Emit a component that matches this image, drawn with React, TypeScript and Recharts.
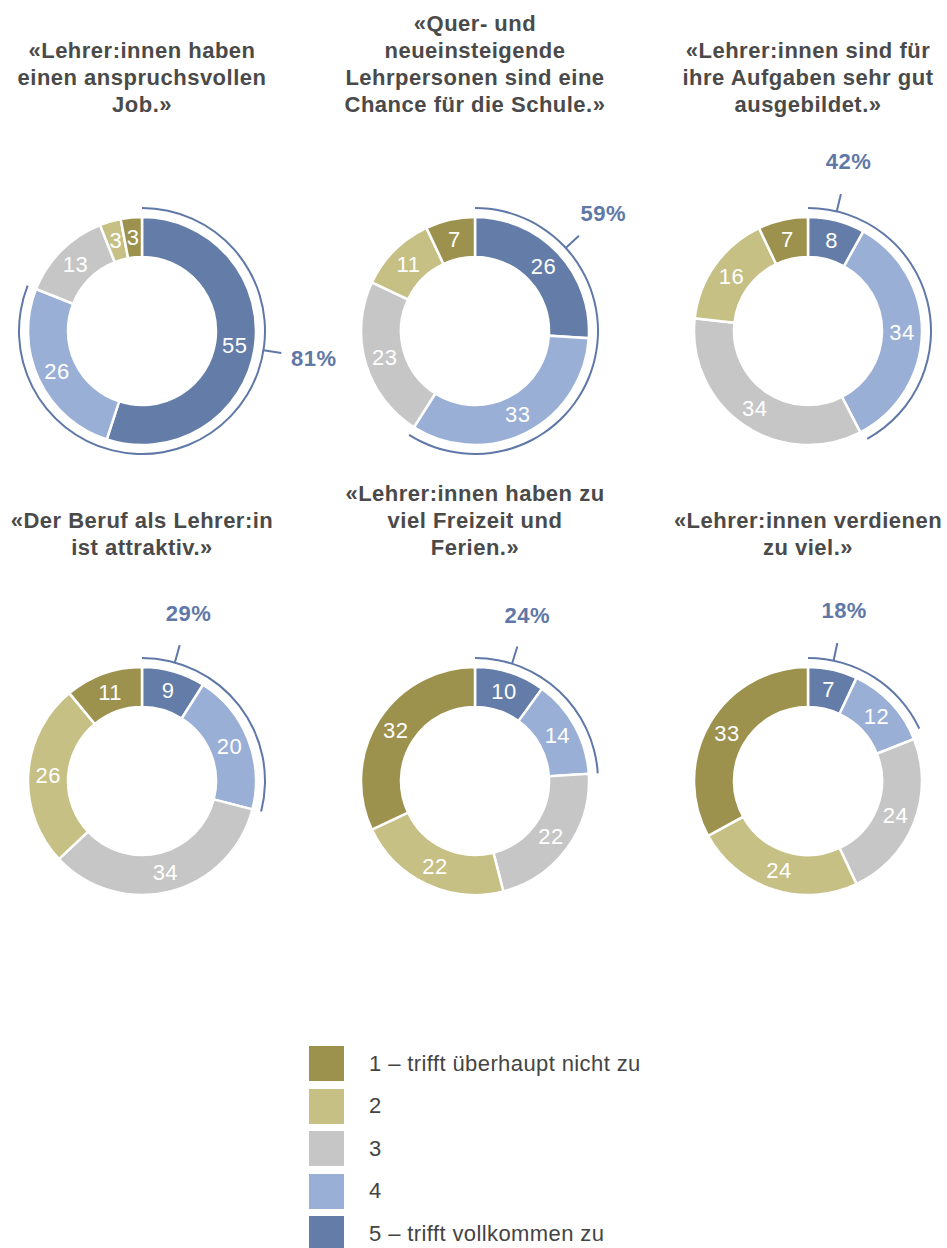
import { Cell, Pie, PieChart } from 'recharts';

// Antwortstufen, Reihenfolge im Ring: 5 → 1 im Uhrzeigersinn ab 12 Uhr
const levels = ['5', '4', '3', '2', '1'];
const levelColors = ['#637CA8', '#9AAFD6', '#C6C6C6', '#C6C085', '#9C924E'];

const legendLabels = ['1 – trifft überhaupt nicht zu', '2', '3', '4', '5 – trifft vollkommen zu'];
const legendColors = ['#9C924E', '#C6C085', '#C6C6C6', '#9AAFD6', '#637CA8'];

const titles = [
  ['«Lehrer:innen haben', 'einen anspruchsvollen', 'Job.»'],
  ['«Quer- und', 'neueinsteigende', 'Lehrpersonen sind eine', 'Chance für die Schule.»'],
  ['«Lehrer:innen sind für', 'ihre Aufgaben sehr gut', 'ausgebildet.»'],
  ['«Der Beruf als Lehrer:in', 'ist attraktiv.»'],
  ['«Lehrer:innen haben zu', 'viel Freizeit und', 'Ferien.»'],
  ['«Lehrer:innen verdienen', 'zu viel.»'],
];

// values in order 5, 4, 3, 2, 1
const job = [55, 26, 13, 3, 3];
const querEinsteigende = [26, 33, 23, 11, 7];
const ausgebildet = [8, 34, 34, 16, 7];
const attraktiv = [9, 20, 34, 26, 11];
const freizeit = [10, 14, 22, 22, 32];
const verdienen = [7, 12, 24, 24, 33];

const series = [job, querEinsteigende, ausgebildet, attraktiv, freizeit, verdienen];
const agreeShares = [81, 59, 42, 29, 24, 18];

// where the callout tick sits, degrees clockwise from 12 o'clock
const calloutAngles = [99, 47.5, 13.5, 15.5, 17.5, 12];

const WIDTH = 947;
const HEIGHT = 1248;
const colX = [142, 475, 808];
const rowY = [331, 781];
const titleBottom = [118, 561];

const RADIAN = Math.PI / 180;
const ARC_BLUE = '#5F78A8';
const FONT = '"Liberation Sans", Arial, Helvetica, sans-serif';

const renderValueLabel = (cx: number, cy: number) => (props: any) => {
  const r = (props.innerRadius + props.outerRadius) / 2;
  const x = cx + r * Math.cos(-props.midAngle * RADIAN);
  const y = cy + r * Math.sin(-props.midAngle * RADIAN);
  return (
    <text
      key={`v-${props.index}`}
      x={x}
      y={y}
      fill="#fff"
      textAnchor="middle"
      dominantBaseline="central"
      fontFamily={FONT}
      fontSize={22}
      letterSpacing={0.5}
    >
      {props.value}
    </text>
  );
};

const renderCallout = (cx: number, cy: number, angle: number, share: number) => (props: any) => {
  if (props.index !== 0) return <g key={`c-${props.index}`} />;
  const s = Math.sin(angle * RADIAN);
  const c = Math.cos(angle * RADIAN);
  return (
    <g key="callout">
      <line x1={cx + 123 * s} y1={cy - 123 * c} x2={cx + 141 * s} y2={cy - 141 * c} stroke={ARC_BLUE} strokeWidth={2} />
      <text
        x={cx + 174 * s}
        y={cy - 174 * c}
        fill={ARC_BLUE}
        textAnchor="middle"
        dominantBaseline="central"
        fontFamily={FONT}
        fontWeight={700}
        fontSize={22}
        letterSpacing={0.5}
      >
        {`${share}%`}
      </text>
    </g>
  );
};

export default function App() {
  return (
    <div style={{ position: 'absolute', left: 0, top: 0, width: WIDTH, height: HEIGHT, overflow: 'hidden', background: '#fff', fontFamily: FONT }}>
      <PieChart
        width={WIDTH}
        height={HEIGHT}
        margin={{ top: 0, right: 0, bottom: 0, left: 0 }}
        style={{ position: 'absolute', left: 0, top: 0 }}
      >
        {series.map((values, i) => {
          const cx = colX[i % 3];
          const cy = rowY[Math.floor(i / 3)];
          const data = values.map((value, j) => ({ name: levels[j], value }));
          return (
            <Pie
              key={`ring-${i}`}
              data={data}
              dataKey="value"
              cx={cx}
              cy={cy}
              innerRadius={74}
              outerRadius={114}
              startAngle={90}
              endAngle={-270}
              stroke="#fff"
              strokeWidth={2.5}
              labelLine={false}
              label={renderValueLabel(cx, cy)}
              isAnimationActive={false}
            >
              {data.map((_, j) => (
                <Cell key={j} fill={levelColors[j]} />
              ))}
            </Pie>
          );
        })}
        {agreeShares.map((share, i) => {
          const cx = colX[i % 3];
          const cy = rowY[Math.floor(i / 3)];
          const data = [
            { name: 'agree', value: share },
            { name: 'rest', value: 100 - share },
          ];
          return (
            <Pie
              key={`arc-${i}`}
              data={data}
              dataKey="value"
              cx={cx}
              cy={cy}
              innerRadius={122}
              outerRadius={124}
              startAngle={90}
              endAngle={-270}
              stroke="none"
              labelLine={false}
              label={renderCallout(cx, cy, calloutAngles[i], share)}
              isAnimationActive={false}
            >
              <Cell fill={ARC_BLUE} />
              <Cell fill="transparent" />
            </Pie>
          );
        })}
      </PieChart>

      {titles.map((lines, i) => (
        <div
          key={`t-${i}`}
          style={{
            position: 'absolute',
            left: colX[i % 3] - 170,
            width: 340,
            bottom: HEIGHT - titleBottom[Math.floor(i / 3)],
            textAlign: 'center',
            fontWeight: 700,
            fontSize: 22,
            lineHeight: '27px',
            letterSpacing: 0.5,
            color: '#4A4A4A',
            whiteSpace: 'nowrap',
          }}
        >
          {lines.map((line) => (
            <div key={line}>{line}</div>
          ))}
        </div>
      ))}

      <div style={{ position: 'absolute', left: 309, top: 1046 }}>
        {legendLabels.map((label, i) => (
          <div key={label} style={{ display: 'flex', alignItems: 'center', height: 35, marginBottom: 7.5 }}>
            <div style={{ width: 35, height: 35, background: legendColors[i] }} />
            <span style={{ marginLeft: 25, fontSize: 22, letterSpacing: 0.4, color: '#444' }}>{label}</span>
          </div>
        ))}
      </div>
    </div>
  );
}
